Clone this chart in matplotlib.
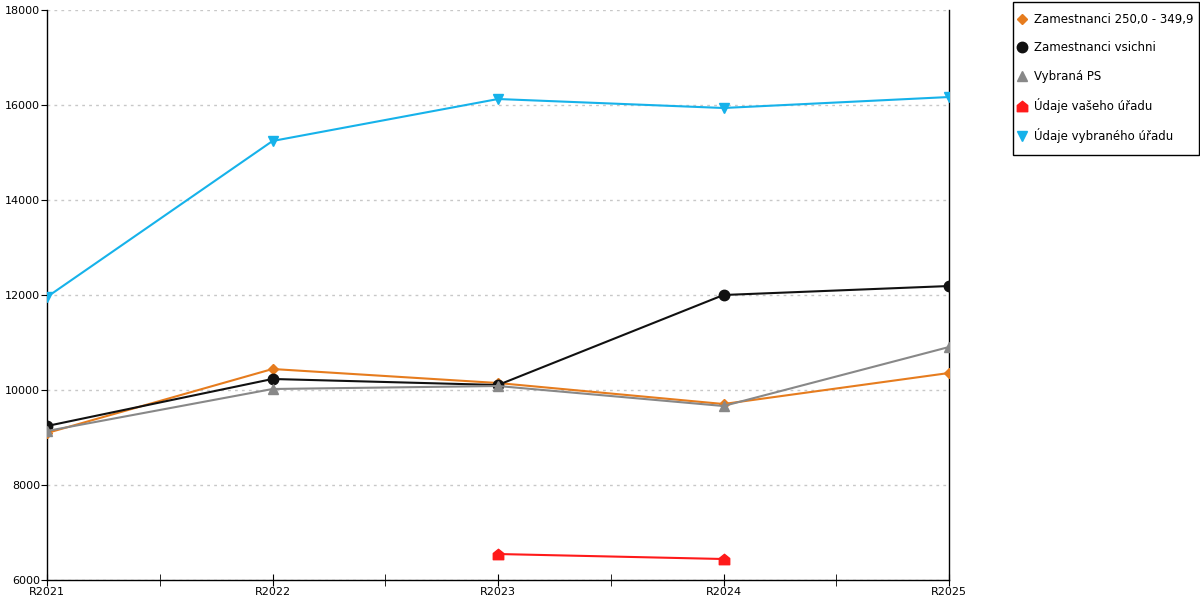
import numpy as np
import matplotlib
matplotlib.use("Agg")
from matplotlib import pyplot as plt
from matplotlib.path import Path
from matplotlib.patches import Rectangle

roky = ["R2021", "R2022", "R2023", "R2024", "R2025"]

zam_250 = [9095, 10442, 10147, 9705, 10358]
zam_vsichni = [9242, 10232, 10105, 12000, 12189]
vybrana_ps = [9137, 10021, 10084, 9663, 10905]
vas_urad = [np.nan, np.nan, 6547, 6442, np.nan]
vybrany_urad = [11958, 15242, 16126, 15937, 16168]

# marker ve tvaru domecku
domek = Path([(-1, -1), (1, -1), (1, 0.2), (0, 1), (-1, 0.2), (-1, -1)],
             [Path.MOVETO, Path.LINETO, Path.LINETO, Path.LINETO, Path.LINETO, Path.CLOSEPOLY])

plt.rcParams['font.family'] = ['DejaVu Sans']
fig = plt.figure(figsize=(12, 6), dpi=100)
ax = fig.add_axes([47/1200, 20/600, 902/1200, 570/600])

x = np.arange(len(roky))
ax.plot(x, zam_250, color="#e67c1e", lw=1.5, marker="D", ms=5.5, label="Zamestnanci 250,0 - 349,9", zorder=3)
ax.plot(x, zam_vsichni, color="#111111", lw=1.5, marker="o", ms=7.5, label="Zamestnanci vsichni", zorder=3)
ax.plot(x, vybrana_ps, color="#888888", lw=1.5, marker="^", ms=7.5, label="Vybraná PS", zorder=3)
ax.plot(x, vas_urad, color="#ff1a1a", lw=1.5, marker=domek, ms=7.5, label="Údaje vašeho úřadu", zorder=3)
ax.plot(x, vybrany_urad, color="#16b2ea", lw=1.5, marker="v", ms=7.5, label="Údaje vybraného úřadu", zorder=3)

ax.set_xlim(0, 4)
ax.set_ylim(6000, 18000)
ax.set_xticks(x)
ax.set_xticklabels(roky)
ax.set_xticks(x[:-1] + 0.5, minor=True)
ax.set_yticks(np.arange(6000, 18001, 2000))
ax.grid(axis="y", color="#c8c8c8", linestyle=(0, (2, 3)), lw=1)
ax.tick_params(axis="x", direction="inout", length=8, labelsize=8, pad=1)
ax.tick_params(axis="x", which="minor", direction="inout", length=8)
ax.tick_params(axis="y", direction="out", length=4, labelsize=8, pad=1)
ax.spines["top"].set_visible(False)
for s in ["left", "right", "bottom"]:
    ax.spines[s].set_color("black")
    ax.spines[s].set_linewidth(1)

# ramecek legendy zvlast
fig.patches.append(Rectangle((1013/1200, 1 - 155/600), 186/1200, 153/600,
                             transform=fig.transFigure, fill=False, edgecolor="black", lw=1))
leg = fig.legend(loc="upper left", bbox_to_anchor=(1018/1200, 1 - 13/600), fontsize=8.5,
                 frameon=False, labelspacing=1.3,
                 handlelength=0.6, handletextpad=0.75, borderpad=0, borderaxespad=0)
for h in leg.legend_handles:
    h.set_linestyle("")

fig.savefig("out.png", dpi=100)
